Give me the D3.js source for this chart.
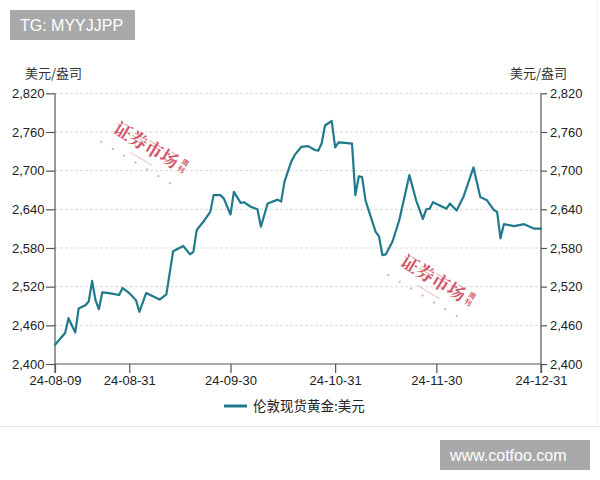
<!DOCTYPE html>
<html><head><meta charset="utf-8">
<script src="https://cdn.jsdelivr.net/npm/d3@7"></script>
<style>
html,body{margin:0;padding:0;background:#fff;}
svg{display:block;}
</style></head>
<body>
<svg id="c" width="600" height="480"></svg>
<script>
const dates = ["2024-08-09","2024-08-12","2024-08-13","2024-08-15","2024-08-16","2024-08-18","2024-08-19","2024-08-20","2024-08-21","2024-08-22","2024-08-23","2024-08-25","2024-08-28","2024-08-29","2024-08-31","2024-09-02","2024-09-03","2024-09-05","2024-09-07","2024-09-09","2024-09-11","2024-09-13","2024-09-16","2024-09-18","2024-09-19","2024-09-20","2024-09-22","2024-09-24","2024-09-25","2024-09-27","2024-09-28","2024-09-30","2024-10-01","2024-10-03","2024-10-04","2024-10-06","2024-10-08","2024-10-09","2024-10-11","2024-10-14","2024-10-15","2024-10-16","2024-10-18","2024-10-19","2024-10-21","2024-10-23","2024-10-25","2024-10-26","2024-10-27","2024-10-28","2024-10-30","2024-10-31","2024-11-01","2024-11-03","2024-11-05","2024-11-06","2024-11-07","2024-11-08","2024-11-09","2024-11-12","2024-11-13","2024-11-14","2024-11-15","2024-11-17","2024-11-19","2024-11-22","2024-11-24","2024-11-26","2024-11-27","2024-11-28","2024-11-29","2024-12-03","2024-12-04","2024-12-06","2024-12-08","2024-12-11","2024-12-13","2024-12-15","2024-12-17","2024-12-18","2024-12-19","2024-12-20","2024-12-23","2024-12-26","2024-12-29","2024-12-31"];
const goldValues = [2430,2448,2471,2449,2486,2491,2497,2529,2499,2485,2511,2510,2507,2518,2510,2499,2481,2510,2505,2500,2508,2575,2583,2570,2574,2608,2621,2636,2662,2662,2657,2632,2667,2650,2651,2644,2640,2613,2649,2655,2652,2683,2714,2724,2737,2738,2732,2731,2742,2770,2777,2736,2744,2743,2742,2662,2691,2690,2654,2605,2598,2569,2570,2590,2623,2693,2654,2625,2640,2641,2651,2641,2649,2638,2659,2705,2659,2654,2639,2636,2595,2617,2614,2617,2610,2610];
const xTickLabels = ["24-08-09","24-08-31","24-09-30","24-10-31","24-11-30","24-12-31"];
const yTicks = [2400,2460,2520,2580,2640,2700,2760,2820];
const unitLabel = "美元/盎司";
const seriesName = "伦敦现货黄金:美元";
const watermarkMain = "证券市场";
const watermarkSmall = ["周","刊"];

const parse = d3.timeParse("%Y-%m-%d");
const parseTick = d3.timeParse("%y-%m-%d");
const data = dates.map((d,i)=>({date:parse(d), value:goldValues[i]}));

const svg = d3.select("#c");
const L = 55, R = 541, T = 93.3, B = 364;
const x = d3.scaleTime().domain([parse("2024-08-09"), parse("2024-12-31")]).range([L, R]);
const y = d3.scaleLinear().domain([2400, 2820]).range([B, T]);

const font = "'Liberation Sans', Arial, 'Noto Sans CJK SC', sans-serif";
const cjk = "'Noto Sans CJK SC', 'Liberation Sans', sans-serif";

// watermark boxes
svg.append("rect").attr("x",10).attr("y",10).attr("width",125).attr("height",30).attr("fill","#a9a9a9");
svg.append("text").attr("x",20).attr("y",31).attr("fill","#fff").attr("font-family",font).attr("font-size",16).text("TG: MYYJJPP");
svg.append("rect").attr("x",440).attr("y",440).attr("width",150).attr("height",30).attr("fill","#a9a9a9");
svg.append("text").attr("x",450).attr("y",461).attr("fill","#fff").attr("font-family",font).attr("font-size",16).text("www.cotfoo.com");

// separator
svg.append("line").attr("x1",0).attr("x2",600).attr("y1",426.5).attr("y2",426.5).attr("stroke","#e4e4e4");
svg.append("line").attr("x1",597.5).attr("x2",597.5).attr("y1",0).attr("y2",426).attr("stroke","#f0f0f0");

// grid
svg.append("g").selectAll("line").data(yTicks.slice(1)).join("line")
  .attr("x1",L).attr("x2",R).attr("y1",d=>y(d)).attr("y2",d=>y(d))
  .attr("stroke","#d9d9d9").attr("stroke-width",1).attr("stroke-dasharray","3,2");

// watermarks (stamps)
function stamp(cx, cy){
  const g = svg.append("g").attr("transform",`translate(${cx},${cy}) rotate(31)`).attr("opacity",0.85);
  g.append("text").attr("x",0).attr("y",0).attr("fill","#c9384f").attr("font-family","'Noto Serif CJK SC','Noto Sans CJK SC',serif")
    .attr("font-size",18).attr("font-weight","bold").text(watermarkMain);
  watermarkSmall.forEach((c,i)=>{
    g.append("text").attr("x",75).attr("y",-9+i*8).attr("fill","#c9384f").attr("font-family",cjk).attr("font-size",7).attr("font-weight","bold").text(c);
  });
  g.append("line").attr("x1",26).attr("x2",52).attr("y1",8).attr("y2",8).attr("stroke","#c9384f").attr("stroke-width",0.6).attr("opacity",0.6);
  for(let i=0;i<7;i++){
    g.append("circle").attr("cx",-4+i*13.3).attr("cy",14).attr("r",1.1).attr("fill","#b07a80").attr("opacity",0.7);
  }
}
stamp(112, 132);
stamp(399, 265);

// axes
const yLeft = d3.axisLeft(y).tickValues(yTicks).tickFormat(d3.format(",")).tickSize(9).tickPadding(1.5);
const yRight = d3.axisRight(y).tickValues(yTicks).tickFormat(d3.format(",")).tickSize(6).tickPadding(3);
const xAxis = d3.axisBottom(x).tickValues(xTickLabels.map(parseTick)).tickFormat(d3.timeFormat("%y-%m-%d")).tickSize(9).tickPadding(3);

function styleAxis(g){
  g.select(".domain").attr("stroke","#555").attr("stroke-width",1.2);
  g.selectAll(".tick line").attr("stroke","#555").attr("stroke-width",1.2);
  g.selectAll(".tick text").attr("fill","#222").attr("font-family",font).attr("font-size",13);
}
svg.append("g").attr("transform",`translate(${L},0)`).call(yLeft).call(g=>{g.select(".domain").attr("d",`M0,${T}V${B+9}`);}).call(styleAxis);
svg.append("g").attr("transform",`translate(${R},0)`).call(yRight).call(g=>{g.select(".domain").attr("d",`M0,${T}V${B+9}`);}).call(styleAxis);
svg.append("g").attr("transform",`translate(0,${B})`).call(xAxis).call(g=>{g.select(".domain").attr("d",`M${L},0H${R}`);}).call(styleAxis);

// unit labels
svg.append("text").attr("x",25).attr("y",78).attr("fill","#333").attr("font-family",cjk).attr("font-size",13).text(unitLabel);
svg.append("text").attr("x",510).attr("y",78).attr("fill","#333").attr("font-family",cjk).attr("font-size",13).text(unitLabel);

// line
const line = d3.line().x(d=>x(d.date)).y(d=>y(d.value));
svg.append("path").datum(data).attr("d",line).attr("fill","none")
  .attr("stroke","#1f7a8c").attr("stroke-width",2.2).attr("stroke-linejoin","round").attr("stroke-linecap","round");

// legend
svg.append("line").attr("x1",224).attr("x2",247).attr("y1",406).attr("y2",406).attr("stroke","#1f7a8c").attr("stroke-width",3);
svg.append("text").attr("x",253).attr("y",411).attr("fill","#222").attr("font-family",cjk).attr("font-size",13.5).text(seriesName);
</script>
</body></html>
